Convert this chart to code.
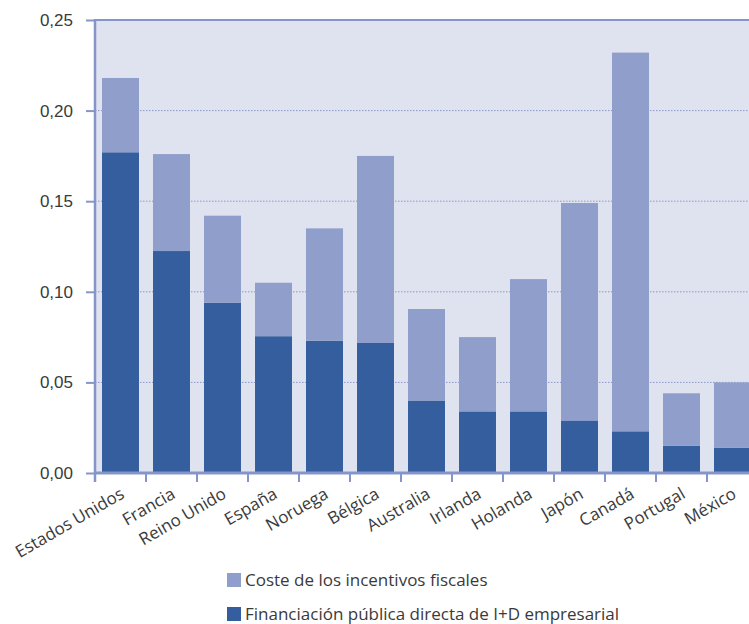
<!DOCTYPE html>
<html>
<head>
<meta charset="utf-8">
<script src="https://cdn.jsdelivr.net/npm/d3@7"></script>
<style>
  body { margin: 0; background: #fff; }
  svg { display: block; font-family: "Open Sans", "Noto Sans", sans-serif; }
</style>
</head>
<body>
<div id="chart"></div>
<script>
/// DATA

const paises = [
  "Estados Unidos", "Francia", "Reino Unido", "España", "Noruega", "Bélgica",
  "Australia", "Irlanda", "Holanda", "Japón", "Canadá", "Portugal", "México",
]
const financiacion = [
  0.177, 0.1225, 0.094, 0.0755, 0.073, 0.072, 0.040, 0.034, 0.034, 0.029, 0.023, 0.015, 0.014,
]
const incentivos = [
  0.041, 0.0535, 0.048, 0.0295, 0.062, 0.103, 0.0505, 0.041, 0.073, 0.120, 0.209, 0.029, 0.036,
]
const yTicks = [0, 0.05, 0.1, 0.15, 0.2, 0.25]
const series = ["financiacion", "incentivos"]
const legendLabels = [
  "Coste de los incentivos fiscales",
  "Financiación pública directa de I+D empresarial",
]

const data = paises.map((p, i) => ({
  pais: p,
  financiacion: financiacion[i],
  incentivos: incentivos[i],
}))

const width = 749
const height = 624
const margins = { top: 20, left: 95, bottom: 151 }
const plotRight = 758 // last band is cut by the image edge

const colors = { financiacion: "#345e9e", incentivos: "#8f9eca" }
const axisColor = "#8695c9"
const textColor = "#3a3a3a"

/// SCALES

const xScale = d3
  .scaleBand()
  .domain(paises)
  .range([margins.left, plotRight])
  .paddingInner(0.275)
  .paddingOuter(0.1375)

const step = xScale.step()

const yScale = d3
  .scaleLinear()
  .domain([0, 0.25])
  .range([height - margins.bottom, margins.top])

const svg = d3
  .select("#chart")
  .append("svg")
  .attr("width", width)
  .attr("height", height)

const y0 = yScale(0)

// plot background
svg
  .append("rect")
  .attr("x", margins.left)
  .attr("y", margins.top)
  .attr("width", width - margins.left)
  .attr("height", y0 - margins.top)
  .attr("fill", "#dfe2ef")

// dotted gridlines
svg
  .append("g")
  .selectAll("line")
  .data(yTicks.filter((d) => d > 0 && d < 0.25))
  .join("line")
  .attr("x1", margins.left)
  .attr("x2", width)
  .attr("y1", (d) => yScale(d))
  .attr("y2", (d) => yScale(d))
  .attr("stroke", "#8c98c9")
  .attr("stroke-width", 1)
  .attr("stroke-dasharray", "1.5,1.5")

/// BARS

const stacked = d3.stack().keys(series)(data)

svg
  .append("g")
  .selectAll("g")
  .data(stacked)
  .join("g")
  .attr("fill", (d) => colors[d.key])
  .selectAll("rect")
  .data((d) => d)
  .join("rect")
  .attr("x", (d) => xScale(d.data.pais))
  .attr("width", xScale.bandwidth())
  .attr("y", (d) => yScale(d[1]))
  .attr("height", (d) => yScale(d[0]) - yScale(d[1]))

/// AXES

const yAxis = svg
  .append("g")
  .attr("transform", `translate(${margins.left},0)`)
  .call(
    d3
      .axisLeft(yScale)
      .tickValues(yTicks)
      .tickFormat((d) => d3.format(".2f")(d).replace(".", ","))
      .tickSize(9)
      .tickPadding(13)
  )
yAxis.select(".domain").remove()
yAxis.selectAll("line").attr("stroke", axisColor).attr("stroke-width", 2)
yAxis
  .selectAll("text")
  .attr("fill", textColor)
  .style("font-size", "17px")

// top frame line and left axis line
svg
  .append("line")
  .attr("x1", margins.left)
  .attr("x2", width)
  .attr("y1", margins.top)
  .attr("y2", margins.top)
  .attr("stroke", axisColor)
  .attr("stroke-width", 2)

svg
  .append("line")
  .attr("x1", margins.left)
  .attr("x2", margins.left)
  .attr("y1", margins.top - 1)
  .attr("y2", y0 + 9)
  .attr("stroke", axisColor)
  .attr("stroke-width", 2.5)

svg
  .append("line")
  .attr("x1", margins.left)
  .attr("x2", width)
  .attr("y1", y0)
  .attr("y2", y0)
  .attr("stroke", axisColor)
  .attr("stroke-width", 3)

// x ticks on band boundaries
svg
  .append("g")
  .selectAll("line")
  .data(paises.slice(1))
  .join("line")
  .attr("x1", (d) => xScale(d) - (step - xScale.bandwidth()) / 2)
  .attr("x2", (d) => xScale(d) - (step - xScale.bandwidth()) / 2)
  .attr("y1", y0)
  .attr("y2", y0 + 9)
  .attr("stroke", axisColor)
  .attr("stroke-width", 2)

// x labels
svg
  .append("g")
  .selectAll("text")
  .data(paises)
  .join("text")
  .attr(
    "transform",
    (d) => `translate(${xScale(d) + xScale.bandwidth() / 2 + 2},${y0 + 19}) rotate(-30)`
  )
  .attr("text-anchor", "end")
  .attr("dy", "0.35em")
  .attr("fill", textColor)
  .style("font-size", "17px")
  .text((d) => d)

/// LEGEND

const legend = svg
  .append("g")
  .attr("transform", "translate(227,573)")

const legendItems = legend
  .selectAll("g")
  .data(["incentivos", "financiacion"])
  .join("g")
  .attr("transform", (d, i) => `translate(0,${i * 34})`)

legendItems
  .append("rect")
  .attr("width", 14)
  .attr("height", 14)
  .attr("fill", (d) => colors[d])

legendItems
  .append("text")
  .attr("x", 18)
  .attr("y", 13)
  .attr("fill", textColor)
  .style("font-size", "17px")
  .text((d, i) => legendLabels[i])
</script>
</body>
</html>
